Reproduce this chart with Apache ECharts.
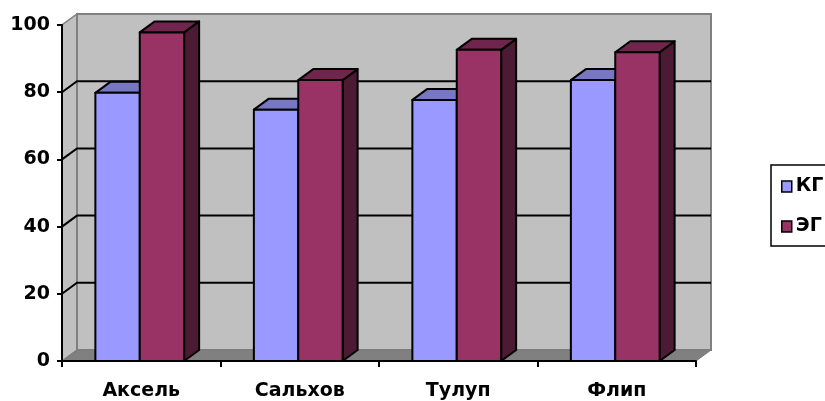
<!DOCTYPE html>
<html>
<head>
<meta charset="utf-8">
<script src="https://cdn.jsdelivr.net/npm/echarts@6/dist/echarts.min.js"></script>
<style>
html, body {margin: 0; padding: 0; background: #fff;}
#main {width: 825px; height: 401px;}
</style>
</head>
<body>
<div id="main"></div>
<script>
// данные
var categories = ['Аксель', 'Сальхов', 'Тулуп', 'Флип'];
var seriesNames = ['КГ', 'ЭГ'];
var kgValues = [79.8, 74.8, 77.7, 83.6];
var egValues = [97.8, 83.6, 92.6, 91.9];
var yTicks = [0, 20, 40, 60, 80, 100];

// смещение глубины (псевдо-3D)
var DX = 15;
var DY = -11;

var frontColors = ['#9999ff', '#993366'];
var topColors = ['#7777c4', '#70264c'];
var sideColors = ['#4d4d80', '#4c1a33'];

var myChart = echarts.init(document.getElementById('main'));

function toData(values) {
    var out = [];
    for (var i = 0; i < values.length; i++) {
        out.push([i, values[i]]);
    }
    return out;
}

// стены, пол и линии сетки
function renderWalls(params, api) {
    var cs = params.coordSys;
    var gx = cs.x, gy = cs.y, gw = cs.width, gh = cs.height;
    var children = [];
    children.push({
        type: 'polygon',
        shape: {points: [[gx, gy + gh], [gx, gy], [gx + DX, gy + DY], [gx + DX, gy + gh + DY]]},
        style: {fill: '#c0c0c0', stroke: '#808080', lineWidth: 1.5}
    });
    children.push({
        type: 'rect',
        shape: {x: gx + DX, y: gy + DY, width: gw, height: gh},
        style: {fill: '#c0c0c0', stroke: '#808080', lineWidth: 2}
    });
    children.push({
        type: 'polygon',
        shape: {points: [[gx, gy + gh], [gx + gw, gy + gh], [gx + gw + DX, gy + gh + DY], [gx + DX, gy + gh + DY]]},
        style: {fill: '#808080', stroke: '#7a7a7a', lineWidth: 1}
    });
    for (var i = 1; i < yTicks.length - 1; i++) {
        var y = api.coord([0, yTicks[i]])[1];
        children.push({
            type: 'polyline',
            shape: {points: [[gx, y], [gx + DX, y + DY], [gx + gw + DX, y + DY]]},
            style: {stroke: '#000', lineWidth: 2, fill: null}
        });
    }
    return {type: 'group', children: children};
}

// столбик с передней, верхней и боковой гранью
function makeBar(k) {
    return function (params, api) {
        var idx = api.value(0);
        var base = api.coord([idx, 0]);
        var top = api.coord([idx, api.value(1)]);
        var bw = api.size([1, 0])[0] * 0.28;
        var x0 = base[0] - 1.5 + (k === 0 ? -bw : 0);
        var by = base[1], ty = top[1];
        var edge = {stroke: '#000', lineWidth: 2, lineJoin: 'round'};
        return {
            type: 'group',
            children: [
                {
                    type: 'polygon',
                    shape: {points: [[x0 + bw, ty], [x0 + bw + DX, ty + DY], [x0 + bw + DX, by + DY], [x0 + bw, by]]},
                    style: echarts.util.extend({fill: sideColors[k]}, edge)
                },
                {
                    type: 'polygon',
                    shape: {points: [[x0, ty], [x0 + DX, ty + DY], [x0 + bw + DX, ty + DY], [x0 + bw, ty]]},
                    style: echarts.util.extend({fill: topColors[k]}, edge)
                },
                {
                    type: 'rect',
                    shape: {x: x0, y: ty, width: bw, height: by - ty},
                    style: echarts.util.extend({fill: frontColors[k]}, edge)
                }
            ]
        };
    };
}

var labelFont = {fontFamily: 'DejaVu Sans', fontWeight: 'bold', fontSize: 19, color: '#000'};

var option = {
    animation: false,
    grid: {left: 62, right: 129, top: 25, bottom: 40},
    legend: {
        left: 771,
        top: 165,
        orient: 'vertical',
        padding: [12, 30, 10, 10],
        itemGap: 21,
        itemWidth: 10,
        itemHeight: 11,
        borderColor: '#000',
        borderWidth: 1.5,
        textStyle: {fontFamily: 'DejaVu Sans', fontWeight: 'bold', fontSize: 19, color: '#000', padding: [0, 0, 0, -1]},
        data: [
            {name: seriesNames[0], icon: 'rect', itemStyle: {color: frontColors[0], borderColor: '#000', borderWidth: 1.5}},
            {name: seriesNames[1], icon: 'rect', itemStyle: {color: frontColors[1], borderColor: '#000', borderWidth: 1.5}}
        ]
    },
    xAxis: {
        type: 'category',
        data: categories,
        z: 10,
        axisLine: {lineStyle: {color: '#000', width: 2}},
        axisTick: {show: true, length: 6, lineStyle: {color: '#000', width: 2}},
        axisLabel: echarts.util.extend({margin: 21}, labelFont),
        splitLine: {show: false}
    },
    yAxis: {
        type: 'value',
        min: 0,
        max: 100,
        interval: 20,
        z: 10,
        axisLine: {show: true, lineStyle: {color: '#000', width: 2}},
        axisTick: {show: true, length: 5, lineStyle: {color: '#000', width: 2}},
        axisLabel: echarts.util.extend({margin: 12}, labelFont),
        splitLine: {show: false}
    },
    series: [
        {
            name: 'walls',
            type: 'custom',
            renderItem: renderWalls,
            data: [[0, 0]],
            silent: true,
            z: 1
        },
        {
            name: seriesNames[0],
            type: 'custom',
            renderItem: makeBar(0),
            itemStyle: {color: frontColors[0]},
            data: toData(kgValues),
            z: 2
        },
        {
            name: seriesNames[1],
            type: 'custom',
            renderItem: makeBar(1),
            itemStyle: {color: frontColors[1]},
            data: toData(egValues),
            z: 3
        }
    ]
};

myChart.setOption(option);
</script>
</body>
</html>
